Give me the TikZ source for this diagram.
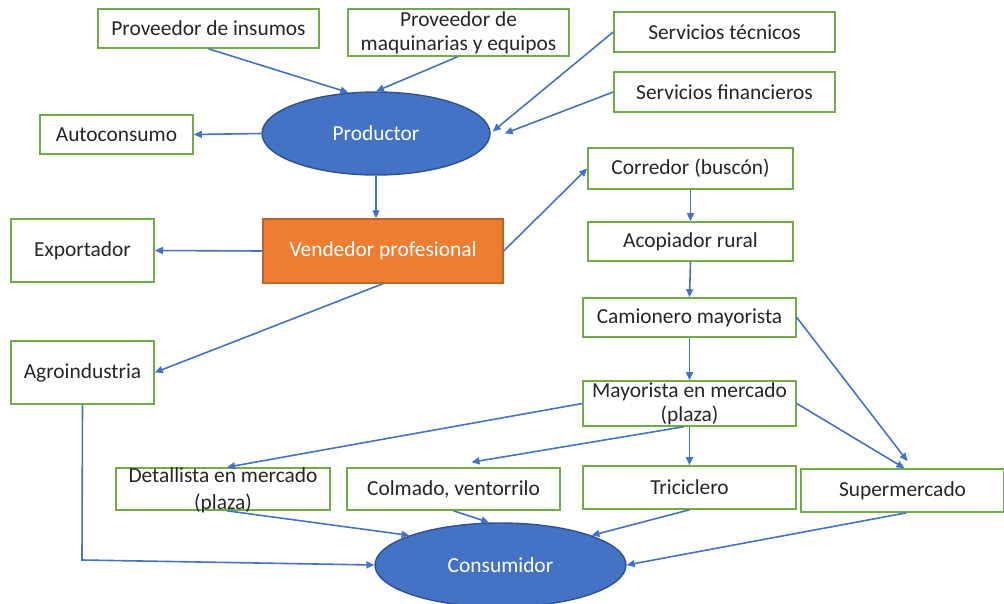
\documentclass[tikz,border=0pt]{standalone}
\usepackage{fontspec}
\setmainfont{Carlito}
\usetikzlibrary{arrows.meta,shapes.geometric}
\definecolor{gbox}{RGB}{112,173,71}
\definecolor{ablue}{RGB}{68,114,196}
\definecolor{dblue}{RGB}{47,82,143}
\definecolor{orng}{RGB}{237,125,49}
\definecolor{dorng}{RGB}{190,100,40}
\begin{document}
\begin{tikzpicture}[x=1pt,y=-1pt,
  txt/.style={font=\fontsize{21.4}{24}\selectfont,align=center,inner sep=0pt,text=black!85},
  box/.style={draw=gbox,line width=1.6pt,fill=white,inner sep=2pt,txt},
  ell/.style={ellipse,draw=dblue,line width=1.4pt,fill=ablue,inner sep=0pt,txt,text=white},
  obox/.style={draw=dorng,line width=1.4pt,fill=orng,inner sep=2pt,txt,text=white},
  conn/.style={draw=ablue,line width=1.6pt,-{Triangle[length=8pt,width=7pt]}}]
\useasboundingbox (0,0) rectangle (1004,603);
% nodes
\node[box,minimum width=221pt,minimum height=39pt] (pi) at (208.5,28.5) {Proveedor de insumos};
\node[box,minimum width=221pt,minimum height=47pt] (pm) at (458.5,32.5) {};
\node[txt] at (pm.center) {Proveedor de\\maquinarias y equipos};
\node[box,minimum width=221pt,minimum height=40pt] (st) at (724.5,32) {Servicios técnicos};
\node[box,minimum width=221pt,minimum height=40pt] (sf) at (724.5,92) {Servicios financieros};
\node[box,minimum width=153pt,minimum height=39pt] (auto) at (116.5,134.5) {Autoconsumo};
\node[ell,minimum width=228pt,minimum height=83pt] (prod) at (376,133.5) {Productor};
\node[obox,minimum width=240pt,minimum height=64pt] (vend) at (383,251) {Vendedor profesional};
\node[box,minimum width=143pt,minimum height=63pt] (exp) at (82.5,250.5) {Exportador};
\node[box,minimum width=143pt,minimum height=63pt] (agro) at (82.5,372.5) {Agroindustria};
\node[box,minimum width=205pt,minimum height=41pt] (corr) at (690.5,168.5) {Corredor (buscón)};
\node[box,minimum width=205pt,minimum height=39pt] (acop) at (690.5,241.5) {Acopiador rural};
\node[box,minimum width=213pt,minimum height=39pt] (cam) at (689.5,317.5) {Camionero mayorista};
\node[box,minimum width=213pt,minimum height=45pt] (may) at (689.5,403.5) {};
\node[txt] at (may.center) {Mayorista en mercado\\(plaza)};
\node[box,minimum width=214pt,minimum height=42pt] (det) at (223,489) {};
\node[txt,font=\fontsize{21.4}{27}\selectfont] at ([yshift=-1pt]det.center) {Detallista en mercado\\(plaza)};
\node[box,minimum width=213pt,minimum height=42pt] (col) at (453.5,489) {Colmado, ventorrilo};
\node[box,minimum width=213pt,minimum height=43pt] (tri) at (689.5,487.5) {Triciclero};
\node[box,minimum width=203pt,minimum height=43pt] (sup) at (902.5,490.5) {Supermercado};
\node[ell,minimum width=251pt,minimum height=84pt] (cons) at (500.5,565) {Consumidor};
\coordinate (bend) at (82,560);
% connectors
\draw[conn] (pi.south) -- (prod.124);
\draw[conn] ([xshift=-1pt]pm.south) -- (prod.north);
\draw[conn] (st.west) -- ([xshift=2pt,yshift=2pt]prod.east);
\draw[conn] (sf.west) -- ([xshift=14pt]prod.east);
\draw[conn] (prod.west) -- (auto.east);
\draw[conn] (prod.south) -- (prod.south |- vend.north);
\draw[conn] (vend.west) -- (exp.east);
\draw[conn] (vend.south) -- (agro.east);
\draw[conn] (vend.east) -- (corr.west);
\draw[conn] (corr.south) -- (acop.north);
\draw[conn] (acop.south) -- (cam.north);
\draw[conn] (cam.south) -- (may.north);
\draw[conn] (cam.east) -- ([xshift=5pt,yshift=7pt]sup.north);
\draw[conn] (may.east) -- ([xshift=2pt]sup.north);
\draw[conn] (may.west) -- ([xshift=4pt]det.north);
\draw[conn] ([xshift=-6pt]may.south) -- ([xshift=18pt,yshift=5pt]col.north);
\draw[conn] (may.south) -- (tri.north);
\draw[conn] ([xshift=4pt]det.south) -- (cons.162);
\draw[conn] (col.south) -- (cons.105);
\draw[conn] (tri.south) -- (cons.18);
\draw[conn] ([xshift=4pt]sup.south) -- (cons.east);
\draw[conn] (agro.south) -- (bend) -- (cons.west);
\end{tikzpicture}
\end{document}
